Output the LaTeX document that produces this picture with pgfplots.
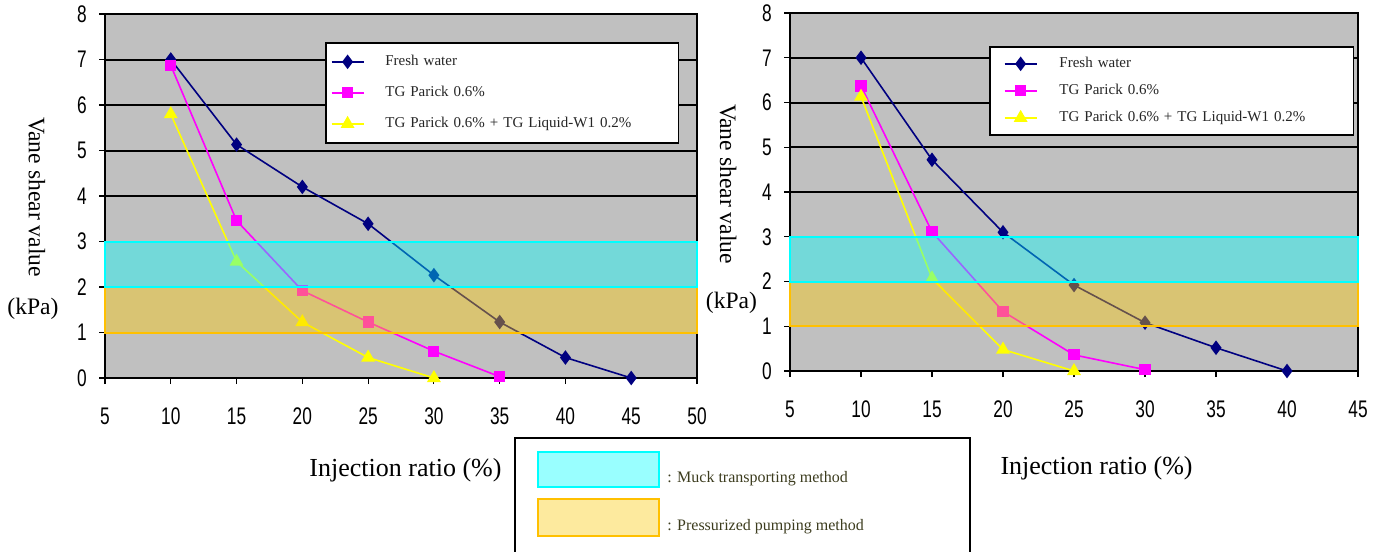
\documentclass[border=0pt]{standalone}
\usepackage{fontspec}
\setmainfont{Liberation Serif}
\newfontfamily\ticksf[FakeStretch=0.72]{Liberation Sans}
\usepackage{pgfplots}
\pgfplotsset{compat=1.18}

\definecolor{navyline}{RGB}{0,0,128}
\definecolor{magline}{RGB}{255,0,255}
\definecolor{yelline}{RGB}{255,255,0}
\definecolor{aqua}{RGB}{0,255,255}
\definecolor{plotbg}{RGB}{192,192,192}
\definecolor{goldband}{RGB}{255,204,0}
\definecolor{goldedge}{RGB}{255,192,0}
\definecolor{swatchcyan}{RGB}{153,255,255}
\definecolor{swatchgold}{RGB}{253,234,158}
\definecolor{legtext}{RGB}{60,60,30}

\pgfplotsset{
  vane/.style={
    scale only axis, anchor=south west,
    axis background/.style={fill=plotbg},
    axis line style={black, line width=0.6pt},
    xmin=5, ymin=0, ymax=8,
    ytick={0,...,7}, extra y ticks={8}, extra y tick style={grid=none},
    ymajorgrids, grid style={black, line width=1pt},
    tick align=outside, xtick pos=bottom, ytick pos=left,
    major tick length=3pt, tick style={black, line width=0.6pt},
    /pgf/number format/assume math mode=true,
    ticklabel style={font=\ticksf\fontsize{12}{12}\selectfont},
    xticklabel style={anchor=center, yshift=-16pt},
    yticklabel style={anchor=center, xshift=-8.5pt},
    clip=false, clip marker paths=true,
    legend cell align=left,
    legend image code/.code={%
      \draw[mark repeat=2, mark phase=2, ##1]
        plot coordinates {(0pt,0pt) (8pt,0pt) (16pt,0pt)};},
  },
  fresh/.style={navyline, line width=0.8pt, mark=diamond*, mark size=3pt,
    mark options={fill=navyline, solid}},
  parick/.style={magline, line width=0.8pt, mark=square*, mark size=2.4pt,
    mark options={fill=magline, solid}},
  liquid/.style={yelline, line width=0.8pt, mark=triangle*, mark size=3.2pt,
    mark options={fill=yelline, solid}},
  cyanband/.style={draw=aqua, line width=1pt, fill=aqua, fill opacity=0.4,
    line cap=rect, forget plot},
  goldbandst/.style={draw=goldedge, line width=1pt, fill=goldband, fill opacity=0.4,
    line cap=rect, forget plot},
}

\begin{document}
\begin{tikzpicture}
\path[use as bounding box] (0,0) rectangle (692pt,-275.5pt);

% left chart
\begin{axis}[vane,
    at={(52.5pt,-189pt)}, width=296pt, height=182pt,
    xmax=50, xtick={5,10,...,50},
    legend style={at={(0.3716,0.923)}, anchor=north west, draw=black,
      line width=0.8pt, fill=white, inner xsep=2.5pt, inner ysep=6pt,
      row sep=8.5pt, column sep=10.5pt,
      font=\fontsize{7.5}{7.5}\selectfont, text=black!85,
      nodes={inner sep=0pt, text height=5.5pt, text depth=1.5pt, text width=144pt}},
  ]
  \addplot[fresh] coordinates {(10,7.0) (15,5.13) (20,4.20) (25,3.39) (30,2.26) (35,1.23) (40,0.45) (45,0)};
  \addplot[parick] coordinates {(10,6.87) (15,3.46) (20,1.92) (25,1.23) (30,0.59) (35,0.03)};
  \addplot[liquid] coordinates {(10,5.80) (15,2.56) (20,1.23) (25,0.45) (30,0)};
  \addplot[goldbandst] coordinates {(5,1) (50,1) (50,2) (5,2) (5,1)};
  \addplot[cyanband] coordinates {(5,2) (50,2) (50,3) (5,3) (5,2)};
  \legend{Fresh water, TG Parick 0.6\%, TG Parick 0.6\% + TG Liquid-W1 0.2\%}
\end{axis}

% right chart
\begin{axis}[vane,
    at={(395pt,-185.5pt)}, width=284pt, height=179pt,
    xmax=45, xtick={5,10,...,45},
    legend style={at={(0.3504,0.9078)}, anchor=north west, draw=black,
      line width=0.8pt, fill=white, inner xsep=7pt, inner ysep=5pt,
      row sep=6.5pt, column sep=11pt,
      font=\fontsize{7.5}{7.5}\selectfont, text=black!85,
      nodes={inner sep=0pt, text height=5.5pt, text depth=1.5pt, text width=140pt}},
  ]
  \addplot[fresh] coordinates {(10,7.0) (15,4.72) (20,3.10) (25,1.92) (30,1.08) (35,0.52) (40,0)};
  \addplot[parick] coordinates {(10,6.37) (15,3.11) (20,1.33) (25,0.36) (30,0.03)};
  \addplot[liquid] coordinates {(10,6.13) (15,2.07) (20,0.48) (25,0)};
  \addplot[goldbandst] coordinates {(5,1) (45,1) (45,2) (5,2) (5,1)};
  \addplot[cyanband] coordinates {(5,2) (45,2) (45,3) (5,3) (5,2)};
  \legend{Fresh water, TG Parick 0.6\%, TG Parick 0.6\% + TG Liquid-W1 0.2\%}
\end{axis}

% axis titles
\node[rotate=-90, font=\fontsize{11.8}{12}\selectfont] at (18.5pt,-98.5pt) {Vane shear value};
\node[font=\fontsize{11.8}{12}\selectfont] at (16.5pt,-154.5pt) {(kPa)};
\node[font=\fontsize{13}{13}\selectfont] at (202.75pt,-235pt) {Injection ratio (\%)};
\node[rotate=-90, font=\fontsize{11.8}{12}\selectfont] at (364pt,-92pt) {Vane shear value};
\node[font=\fontsize{11.8}{12}\selectfont] at (365.75pt,-151.5pt) {(kPa)};
\node[font=\fontsize{13}{13}\selectfont] at (548.25pt,-234pt) {Injection ratio (\%)};

% band key below the charts
\draw[black, line width=0.8pt] (257.5pt,-280pt) -- (257.5pt,-219pt) -- (485pt,-219pt) -- (485pt,-280pt);
\draw[aqua, line width=1pt, fill=swatchcyan] (269pt,-226pt) rectangle (329.5pt,-243.5pt);
\draw[goldedge, line width=1pt, fill=swatchgold] (269pt,-249.5pt) rectangle (329.5pt,-268pt);
\node[anchor=base west, inner sep=0pt, text=legtext, font=\fontsize{8}{8}\selectfont] at (333.5pt,-241pt) {: Muck transporting method};
\node[anchor=base west, inner sep=0pt, text=legtext, font=\fontsize{8}{8}\selectfont] at (333.5pt,-265pt) {: Pressurized pumping method};
\end{tikzpicture}
\end{document}
